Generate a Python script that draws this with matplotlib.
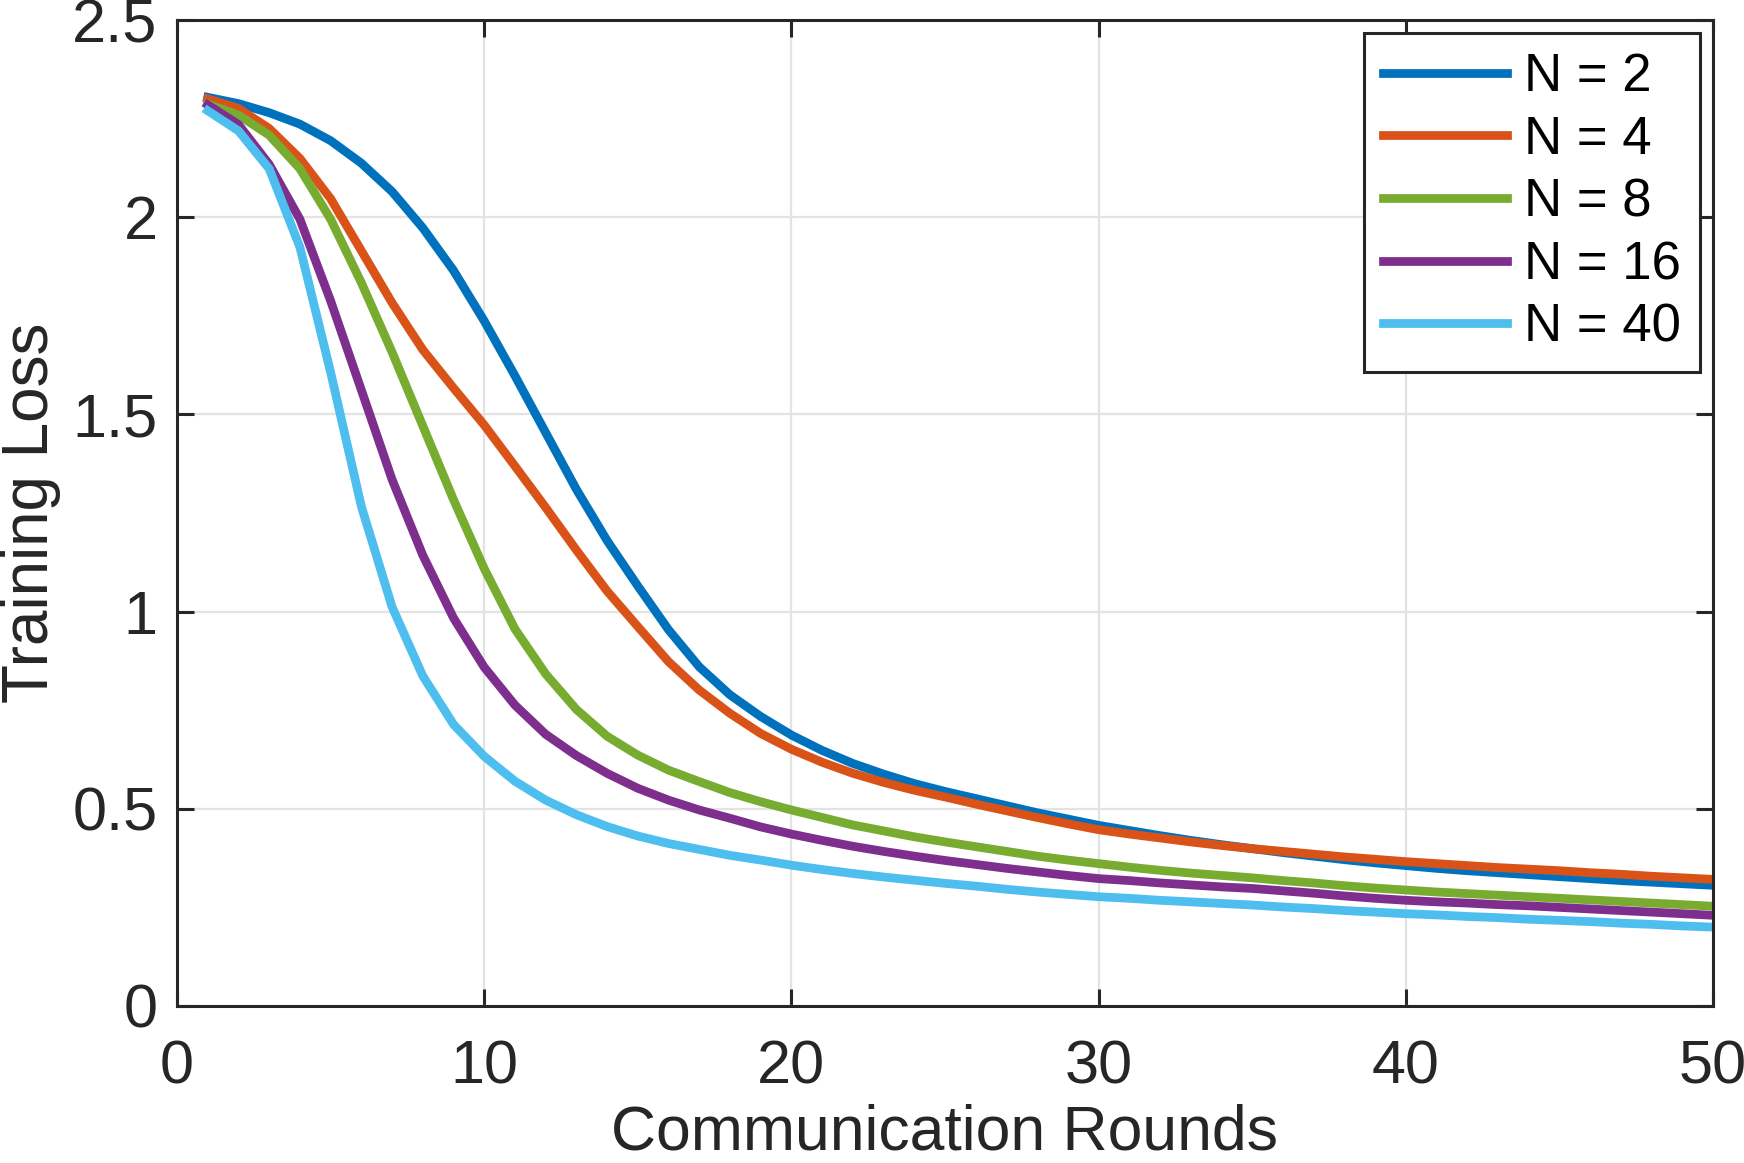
import matplotlib
matplotlib.use('Agg')
import matplotlib.pyplot as plt
from matplotlib.ticker import FormatStrFormatter

plt.rcParams['font.family'] = ['Liberation Sans', 'DejaVu Sans']

rounds = list(range(1, 51))
labels = ['N = 2', 'N = 4', 'N = 8', 'N = 16', 'N = 40']
colors = ['#0072BD', '#D95319', '#77AC30', '#7E2F8E', '#4DBEEE']

loss_n2 = [2.304, 2.288, 2.265, 2.236, 2.194, 2.137, 2.065, 1.973, 1.865, 1.737,
           1.598, 1.454, 1.310, 1.180, 1.065, 0.954, 0.860, 0.789, 0.734, 0.687,
           0.648, 0.615, 0.588, 0.564, 0.544, 0.526, 0.508, 0.490, 0.474, 0.458,
           0.445, 0.432, 0.420, 0.409, 0.399, 0.389, 0.380, 0.371, 0.363, 0.356,
           0.349, 0.343, 0.338, 0.333, 0.328, 0.323, 0.318, 0.314, 0.310, 0.306]
loss_n4 = [2.300, 2.276, 2.225, 2.149, 2.047, 1.915, 1.783, 1.664, 1.567, 1.473,
           1.369, 1.264, 1.156, 1.052, 0.962, 0.873, 0.801, 0.742, 0.691, 0.651,
           0.618, 0.590, 0.567, 0.547, 0.530, 0.512, 0.495, 0.478, 0.462, 0.447,
           0.436, 0.426, 0.416, 0.407, 0.399, 0.392, 0.385, 0.378, 0.372, 0.366,
           0.361, 0.356, 0.351, 0.347, 0.343, 0.338, 0.334, 0.329, 0.325, 0.321]
loss_n8 = [2.287, 2.259, 2.208, 2.123, 1.995, 1.834, 1.658, 1.471, 1.284, 1.109,
           0.956, 0.842, 0.752, 0.684, 0.636, 0.598, 0.569, 0.541, 0.518, 0.497,
           0.478, 0.459, 0.444, 0.429, 0.416, 0.404, 0.392, 0.380, 0.370, 0.361,
           0.352, 0.344, 0.337, 0.331, 0.325, 0.318, 0.312, 0.305, 0.299, 0.294,
           0.289, 0.285, 0.281, 0.277, 0.273, 0.269, 0.265, 0.261, 0.257, 0.253]
loss_n16 = [2.285, 2.235, 2.134, 1.995, 1.788, 1.562, 1.335, 1.143, 0.984, 0.859,
            0.763, 0.689, 0.635, 0.590, 0.552, 0.522, 0.497, 0.476, 0.454, 0.436,
            0.420, 0.405, 0.392, 0.380, 0.369, 0.359, 0.349, 0.340, 0.331, 0.323,
            0.318, 0.312, 0.307, 0.302, 0.298, 0.292, 0.286, 0.279, 0.273, 0.268,
            0.264, 0.261, 0.257, 0.254, 0.250, 0.246, 0.242, 0.238, 0.234, 0.230]
loss_n40 = [2.270, 2.219, 2.123, 1.924, 1.607, 1.267, 1.012, 0.837, 0.714, 0.633,
            0.570, 0.522, 0.485, 0.455, 0.431, 0.412, 0.397, 0.382, 0.370, 0.357,
            0.346, 0.336, 0.327, 0.319, 0.311, 0.304, 0.296, 0.289, 0.283, 0.277,
            0.273, 0.268, 0.264, 0.260, 0.256, 0.251, 0.247, 0.242, 0.238, 0.234,
            0.231, 0.227, 0.224, 0.220, 0.217, 0.214, 0.210, 0.207, 0.203, 0.200]

x_ticks = [0, 10, 20, 30, 40, 50]
y_ticks = [0, 0.5, 1, 1.5, 2, 2.5]

fig = plt.figure(figsize=(17.44, 11.63), dpi=100)
ax = fig.add_axes([0.1015, 0.135, 0.8807, 0.8478])

series = [loss_n2, loss_n4, loss_n8, loss_n16, loss_n40]
for vals, lab, col in zip(series, labels, colors):
    ax.plot(rounds, vals, color=col, linewidth=6.3, label=lab)

ax.set_xlim(0, 50)
ax.set_ylim(0, 2.5)
ax.set_xticks(x_ticks)
ax.set_yticks(y_ticks)
ax.yaxis.set_major_formatter(FormatStrFormatter('%g'))
ax.grid(True, color='#e3e3e3', linewidth=1.6)
ax.set_axisbelow(True)

for s in ax.spines.values():
    s.set_color('#262626')
    s.set_linewidth(2.2)
ax.tick_params(direction='in', length=12, width=2.2, colors='#262626',
               labelsize=44, top=True, right=True, pad=14)
ax.tick_params(axis='x', pad=24)

ax.set_xlabel('Communication Rounds', fontsize=45, color='#262626', labelpad=5)
ax.set_ylabel('Training Loss', fontsize=46, color='#262626', labelpad=8)

leg = ax.legend(loc='upper right', fontsize=38, frameon=True, fancybox=False,
                framealpha=1, edgecolor='#262626', handlelength=2.35,
                handletextpad=0.32, labelspacing=0.24, borderpad=0.36,
                borderaxespad=0.25)
leg.get_frame().set_linewidth(2.2)

fig.savefig('out.png', dpi=100)
